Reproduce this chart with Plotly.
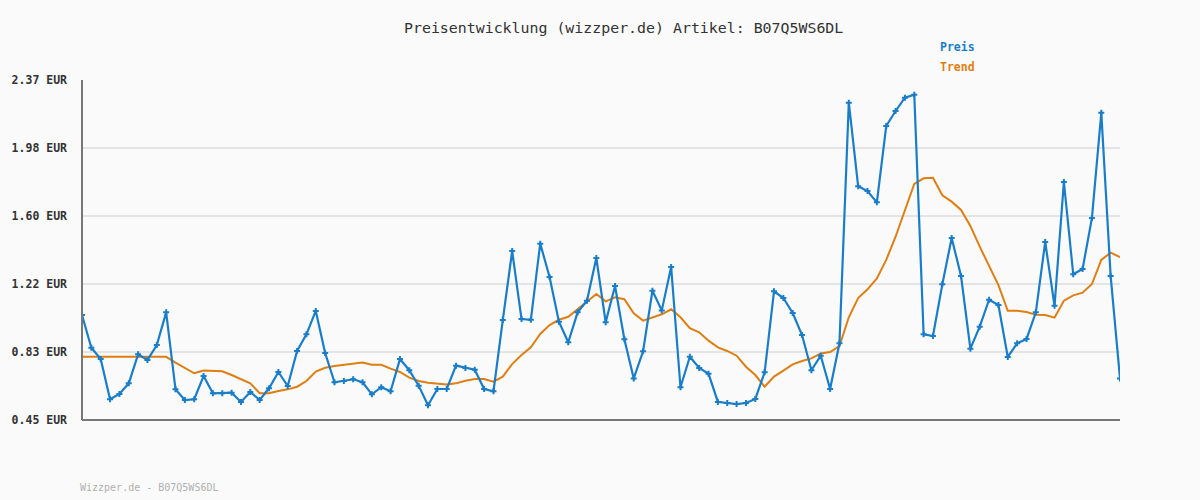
import plotly.graph_objects as go

price = [1.043, 0.858, 0.794, 0.567, 0.597, 0.657, 0.821, 0.789, 0.873, 1.058,
         0.623, 0.563, 0.567, 0.698, 0.601, 0.601, 0.604, 0.552, 0.608, 0.563,
         0.629, 0.721, 0.642, 0.840, 0.934, 1.066, 0.828, 0.663, 0.670, 0.680,
         0.663, 0.595, 0.635, 0.612, 0.794, 0.731, 0.644, 0.533, 0.625, 0.625,
         0.757, 0.744, 0.734, 0.625, 0.612, 1.015, 1.404, 1.020, 1.016, 1.446,
         1.258, 1.005, 0.889, 1.058, 1.124, 1.365, 1.002, 1.207, 0.906, 0.685,
         0.838, 1.180, 1.069, 1.314, 0.635, 0.807, 0.744, 0.711, 0.552, 0.546,
         0.540, 0.546, 0.569, 0.719, 1.177, 1.139, 1.054, 0.930, 0.731, 0.813,
         0.625, 0.883, 2.242, 1.770, 1.743, 1.679, 2.110, 2.195, 2.270, 2.287,
         0.934, 0.924, 1.216, 1.478, 1.263, 0.853, 0.977, 1.129, 1.099, 0.806,
         0.883, 0.907, 1.058, 1.455, 1.095, 1.794, 1.273, 1.303, 1.591, 2.185,
         1.263, 0.685]

trend = [0.807, 0.807, 0.807, 0.807, 0.807, 0.807, 0.807, 0.807, 0.807, 0.807,
         0.774, 0.742, 0.714, 0.729, 0.729, 0.725, 0.704, 0.680, 0.657, 0.601,
         0.601, 0.614, 0.623, 0.638, 0.670, 0.723, 0.745, 0.755, 0.761, 0.768,
         0.774, 0.762, 0.762, 0.740, 0.721, 0.689, 0.670, 0.661, 0.655, 0.651,
         0.657, 0.672, 0.682, 0.682, 0.666, 0.695, 0.766, 0.817, 0.860, 0.936,
         0.986, 1.016, 1.033, 1.075, 1.118, 1.162, 1.120, 1.143, 1.132, 1.052,
         1.011, 1.030, 1.047, 1.075, 1.030, 0.968, 0.945, 0.898, 0.860, 0.840,
         0.813, 0.751, 0.704, 0.638, 0.695, 0.729, 0.764, 0.783, 0.798, 0.826,
         0.834, 0.868, 1.030, 1.139, 1.188, 1.250, 1.354, 1.485, 1.636, 1.783,
         1.815, 1.818, 1.719, 1.683, 1.636, 1.546, 1.429, 1.325, 1.212, 1.067,
         1.067, 1.060, 1.045, 1.043, 1.028, 1.124, 1.154, 1.169, 1.218, 1.354,
         1.395, 1.370]

y_min, y_max = 0.45, 2.37
tick_vals = [y_min + k * (y_max - y_min) / 5 for k in range(6)]
tick_text = ["0.45 EUR", "0.83 EUR", "1.22 EUR", "1.60 EUR", "1.98 EUR", "2.37 EUR"]

title_text = "Preisentwicklung (wizzper.de) Artikel: B07Q5WS6DL"
footer_text = "Wizzper.de - B07Q5WS6DL"

BLUE = "#1a7dc9"
ORANGE = "#df7e12"
MONO = "DejaVu Sans Mono"

x = list(range(len(price)))

fig = go.Figure()
fig.add_trace(go.Scatter(x=x, y=trend, mode="lines", name="Trend",
                         line=dict(color=ORANGE, width=2), hoverinfo="skip"))
fig.add_trace(go.Scatter(x=x, y=price, mode="lines+markers", name="Preis",
                         line=dict(color=BLUE, width=2.2),
                         marker=dict(symbol="cross", size=5, color=BLUE,
                                     line=dict(width=0))))

fig.update_layout(
    width=1200, height=500,
    margin=dict(l=80, r=80, t=80, b=80),
    paper_bgcolor="#fafafa", plot_bgcolor="#fafafa",
    showlegend=False,
    xaxis=dict(range=[0, len(price) - 1], showgrid=False, zeroline=False,
               showticklabels=False, ticks="", showline=False),
    yaxis=dict(range=[y_min, y_max], tickvals=tick_vals, ticktext=tick_text,
               showgrid=True, gridcolor="#e4e4e4", gridwidth=2,
               zeroline=False, showline=False, ticks="",
               ticklabelstandoff=14,
               tickfont=dict(family=MONO, size=11.5, color="#333333", weight="bold")),
    shapes=[
        dict(type="line", xref="paper", yref="paper", x0=0, x1=0, y0=0, y1=1,
             line=dict(color="#777777", width=2)),
        dict(type="line", xref="paper", yref="paper", x0=0, x1=1, y0=0, y1=0,
             line=dict(color="#777777", width=2)),
    ],
    annotations=[
        dict(text=title_text, xref="paper", yref="paper", x=0.522, y=(420 - 28) / 340,
             xanchor="center", yanchor="middle", showarrow=False,
             font=dict(family=MONO, size=14.9, color="#333333")),
        dict(text="Preis", xref="paper", yref="paper", x=(938 - 80) / 1040, y=(420 - 47) / 340,
             xanchor="left", yanchor="middle", showarrow=False,
             font=dict(family=MONO, size=11.5, color=BLUE, weight="bold")),
        dict(text="Trend", xref="paper", yref="paper", x=(938 - 80) / 1040, y=(420 - 67) / 340,
             xanchor="left", yanchor="middle", showarrow=False,
             font=dict(family=MONO, size=11.5, color=ORANGE, weight="bold")),
        dict(text=footer_text, xref="paper", yref="paper", x=-4 / 1040, y=(420 - 487) / 340,
             xanchor="left", yanchor="middle", showarrow=False,
             font=dict(family=MONO, size=10, color="#b0b0b0")),
    ],
)

fig.write_html("out.html", config={"displayModeBar": False},
               post_script="document.body.style.margin='0';document.body.style.background='#fafafa';")
